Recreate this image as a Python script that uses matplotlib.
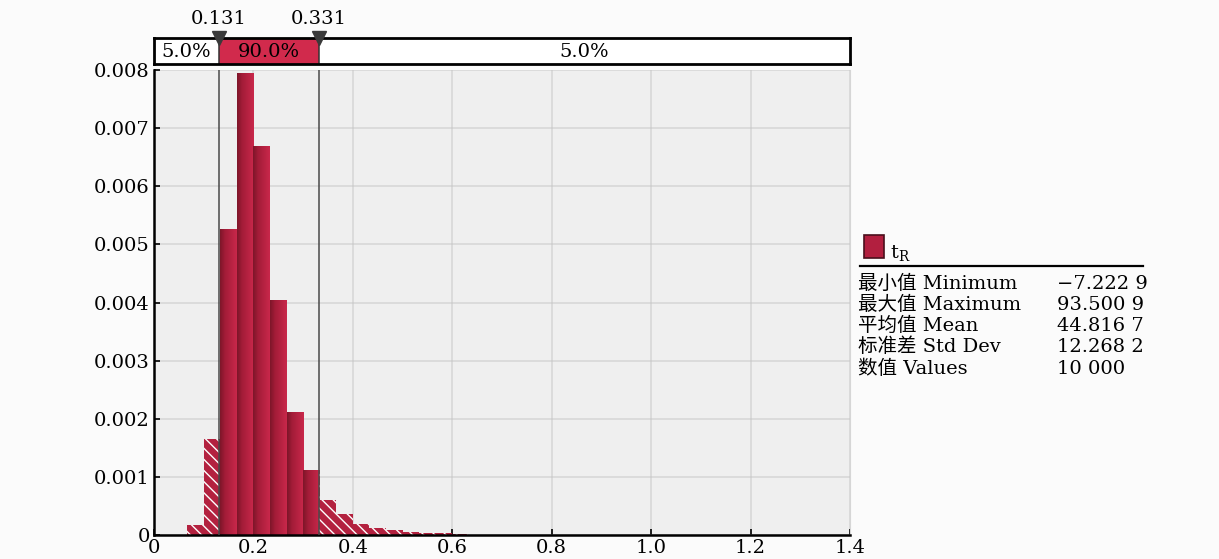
import numpy as np
import matplotlib.pyplot as plt
from matplotlib.colors import LinearSegmentedColormap
from matplotlib.patches import Rectangle
from matplotlib.lines import Line2D

plt.rcParams['font.family'] = ['DejaVu Serif', 'Noto Sans CJK SC']
plt.rcParams['mathtext.fontset'] = 'dejavuserif'
plt.rcParams['axes.unicode_minus'] = True

# ---- data ----
bin_edges = [0.0667, 0.1, 0.1333, 0.1667, 0.2, 0.2333, 0.2667, 0.3, 0.3333,
             0.3667, 0.4, 0.4333, 0.4667, 0.5, 0.5333, 0.5667, 0.6, 0.6333]
density = [0.00018, 0.00166, 0.00527, 0.00795, 0.0067, 0.00404, 0.00212, 0.00112,
           0.0006, 0.00036, 0.000195, 0.000125, 0.00008, 0.000055, 0.00004,
           0.00003, 0.00002]
lower_cut, upper_cut = 0.131, 0.331
band_pcts = ['5.0%', '90.0%', '5.0%']
x_ticks = [0, 0.2, 0.4, 0.6, 0.8, 1.0, 1.2, 1.4]
x_labels = ['0', '0.2', '0.4', '0.6', '0.8', '1.0', '1.2', '1.4']
y_ticks = [0, 0.001, 0.002, 0.003, 0.004, 0.005, 0.006, 0.007, 0.008]
y_labels = ['0', '0.001', '0.002', '0.003', '0.004', '0.005', '0.006', '0.007', '0.008']
series_name = r'$\mathregular{t_R}$'
stat_names = ['最小值 Minimum', '最大值 Maximum', '平均值 Mean', '标准差 Std Dev', '数值 Values']
stat_values = ['\u22127.222 9', '93.500 9', '44.816 7', '12.268 2', '10 000']

RED = '#c0223f'
FS = 14
bar_cmap = LinearSegmentedColormap.from_list(
    'bar', [(0, '#7e1629'), (0.3, '#a31c38'), (1, '#c9284b')])

fig = plt.figure(figsize=(12.19, 5.59), dpi=100, facecolor='#fbfbfb')
ax = fig.add_axes([0.1263, 0.0429, 0.571, 0.8319])
ax.set_facecolor('#efefef')

# ---- histogram, split at the cut-off values ----
grad = np.linspace(0, 1, 64).reshape(1, -1)
for lo, hi, h in zip(bin_edges[:-1], bin_edges[1:], density):
    segs = [(lo, min(hi, lower_cut), True),
            (max(lo, lower_cut), min(hi, upper_cut), False),
            (max(lo, upper_cut), hi, True)]
    for a, b, outside in segs:
        if b <= a:
            continue
        if outside:
            ax.bar(a, h, width=b - a, align='edge', color='#b3213f',
                   hatch='\\\\\\', edgecolor='white', linewidth=0, zorder=2)
        else:
            bar = ax.bar(a, h, width=b - a, align='edge', color=RED,
                         linewidth=0, zorder=2)[0]
            im = ax.imshow(grad, extent=[a, a + (hi - lo), 0, h], aspect='auto',
                           cmap=bar_cmap, zorder=2.1)
            im.set_clip_path(bar)

for c in (lower_cut, upper_cut):
    ax.axvline(c, color='#4a4a4a', lw=1.1, zorder=4)

ax.set_xlim(0, 1.4)
ax.set_ylim(0, 0.008)
ax.set_xticks(x_ticks)
ax.set_xticklabels(x_labels, fontsize=FS)
ax.set_yticks(y_ticks)
ax.set_yticklabels(y_labels, fontsize=FS)
ax.tick_params(direction='in', length=4, width=1.2, pad=3)
ax.grid(True, color='#c4c4c4', alpha=0.55, lw=1.2, zorder=3)
for side in ('left', 'bottom'):
    ax.spines[side].set_linewidth(1.8)
ax.spines['right'].set_color('#d6d6d6')
ax.spines['top'].set_visible(False)

# ---- percentile band on top ----
bx = fig.add_axes([0.1263, 0.8855, 0.571, 0.0465])
bx.set_xlim(0, 1.4)
bx.set_ylim(0, 1)
bx.set_xticks([])
bx.set_yticks([])
bx.set_facecolor('white')
for s in bx.spines.values():
    s.set_linewidth(2)
bx.add_patch(Rectangle((lower_cut, 0), upper_cut - lower_cut, 1,
                       facecolor='#d12a4c', edgecolor='none'))
for c in (lower_cut, upper_cut):
    bx.axvline(c, color='#333333', lw=1.1)
centers = [lower_cut / 2, (lower_cut + upper_cut) / 2, (upper_cut + 1.4) / 2]
for cx, txt in zip(centers, band_pcts):
    bx.text(cx, 0.45, txt, ha='center', va='center', fontsize=FS)
bx.plot([lower_cut, upper_cut], [1, 1], marker='v', ls='none', ms=10,
        color='#3a3a3a', clip_on=False, zorder=5)
for c in (lower_cut, upper_cut):
    bx.text(c, 1.75, f'{c:.3f}', ha='center', va='center', fontsize=FS,
            clip_on=False)

# ---- legend and statistics panel ----
fig.add_artist(Rectangle((0.7088, 0.5385), 0.0164, 0.0411, transform=fig.transFigure,
                         facecolor='#b21f3f', edgecolor='#4a0f1c', lw=1.2))
fig.text(0.7305, 0.548, series_name, fontsize=FS, va='center')
fig.add_artist(Line2D([0.7055, 0.9377], [0.5242, 0.5242], transform=fig.transFigure,
                      color='black', lw=1.6))
row_y = [0.492, 0.4544, 0.4168, 0.3792, 0.340]
for y, name, val in zip(row_y, stat_names, stat_values):
    fig.text(0.7039, y, name, fontsize=FS, va='center')
    fig.text(0.8672, y, val, fontsize=FS, va='center')

fig.savefig('out.png', dpi=100, facecolor=fig.get_facecolor())
